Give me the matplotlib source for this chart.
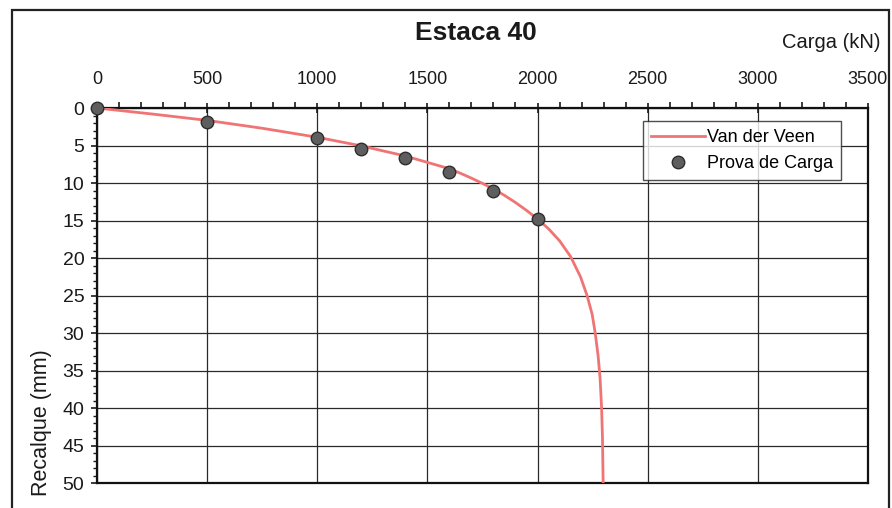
#!/usr/bin/env python3
"""Load test curve for pile 40: measured points and Van der Veen fit."""
import matplotlib
matplotlib.use("Agg")
import matplotlib.pyplot as plt
from matplotlib.patches import Rectangle
from matplotlib.ticker import MultipleLocator

plt.rcParams["font.family"] = ["Liberation Sans", "DejaVu Sans"]

# load test readings (kN, mm)
test_load = [0, 500, 1000, 1200, 1400, 1600, 1800, 2000]
test_settlement = [0.0, 1.8, 4.0, 5.4, 6.7, 8.5, 11.1, 14.8]

# Van der Veen curve, read point by point
vdv_load = [0, 250, 500, 750, 1000, 1200, 1400, 1600, 1650, 1700, 1750, 1800,
            1850, 1900, 1950, 2000, 2050, 2100, 2150, 2195, 2225, 2248, 2262,
            2275, 2284, 2291, 2295, 2298]
vdv_settlement = [0.0, 0.8, 1.65, 2.7, 3.9, 5.05, 6.4, 8.1, 8.7, 9.35, 10.05,
                  10.8, 11.65, 12.6, 13.65, 14.8, 16.1, 17.7, 19.8, 22.5, 25.0,
                  27.5, 30.0, 33.0, 36.0, 40.0, 44.0, 50.0]

fig = plt.figure(figsize=(8.92, 5.08), dpi=100)
ax = fig.add_axes([0.1087, 0.0492, 0.973 - 0.1087, 0.7874 - 0.0492])

ax.plot(vdv_load, vdv_settlement, color="#F07474", lw=2.0, label="Van der Veen",
        zorder=3)
ax.plot(test_load, test_settlement, ls="none", marker="o", ms=9,
        mfc="#5E5E5E", mec="#2E2E2E", mew=1.0, label="Prova de Carga",
        zorder=4, clip_on=False)

ax.set_xlim(0, 3500)
ax.set_ylim(50, 0)

ax.xaxis.set_major_locator(MultipleLocator(500))
ax.xaxis.set_minor_locator(MultipleLocator(100))
ax.yaxis.set_major_locator(MultipleLocator(5))
ax.yaxis.set_minor_locator(MultipleLocator(1))
ax.xaxis.tick_top()

ax.tick_params(axis="x", which="major", direction="inout", length=7, width=1.2,
               pad=11, labelsize=13, colors="#1A1A1A")
ax.tick_params(axis="x", which="minor", direction="out", length=4, width=1.2,
               colors="#1A1A1A")
ax.tick_params(axis="y", which="major", direction="out", length=4, width=1.2,
               pad=5, labelsize=14, colors="#1A1A1A")
ax.tick_params(axis="y", which="minor", direction="out", length=3, width=1.0,
               colors="#1A1A1A")

ax.grid(True, which="major", color="#2A2A2A", lw=0.9)
ax.set_axisbelow(True)
for side in ("top", "left", "bottom", "right"):
    ax.spines[side].set_linewidth(1.6)
    ax.spines[side].set_color("#111111")

ax.set_ylabel("Recalque (mm)", fontsize=15.5, color="#1A1A1A")
ax.yaxis.set_label_coords(-0.058, -0.035)
ax.yaxis.label.set_horizontalalignment("left")

leg = ax.legend(loc="upper right", bbox_to_anchor=(0.977, 0.99), fontsize=13,
                frameon=True, fancybox=False, handlelength=3.0,
                borderpad=0.45, labelspacing=0.5, handletextpad=0.1)
leg.get_frame().set_edgecolor("#222222")
leg.get_frame().set_linewidth(1.0)

fig.text(0.534, 0.935, "Estaca 40", fontsize=19, fontweight="bold",
         ha="center", va="center", color="#1A1A1A")
fig.text(0.987, 0.917, "Carga (kN)", fontsize=14.5, ha="right", va="center",
         color="#1A1A1A")

# outer chart frame
fig.patches.append(Rectangle((0.0135, -0.05), 0.983, 1.03, transform=fig.transFigure,
                             fill=False, lw=1.6, ec="#222222"))

fig.savefig("out.png", dpi=100)
